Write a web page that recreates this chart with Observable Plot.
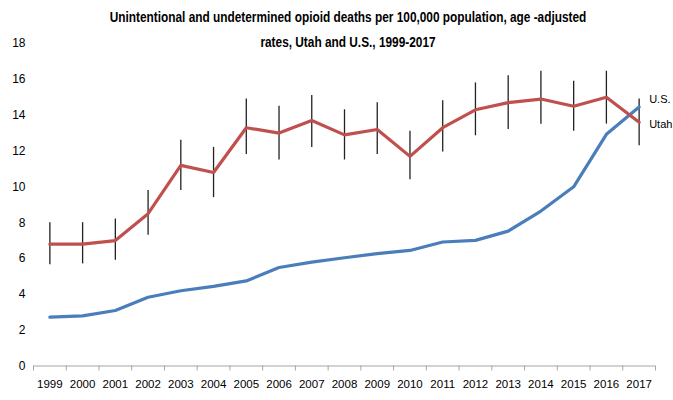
<!DOCTYPE html>
<html>
<head>
<meta charset="utf-8">
<script src="https://cdn.jsdelivr.net/npm/d3@7"></script>
<script src="https://cdn.jsdelivr.net/npm/@observablehq/plot@0.6"></script>
<style>
  html, body { margin: 0; padding: 0; background: #fff; }
  #wrap { position: relative; width: 673px; height: 400px; overflow: hidden; }
  #title { position: absolute; left: 0; top: 4px; width: 696px; text-align: center;
    font-family: "Liberation Sans", sans-serif; font-weight: bold;
    font-size: 15px; line-height: 25px; color: #000;
    transform: scaleX(0.79); transform-origin: 348px 0; }
</style>
</head>
<body>
<div id="wrap">
  <div id="chart"></div>
  <div id="title">Unintentional and undetermined opioid deaths per 100,000 population, age -adjusted<br>rates, Utah and U.S., 1999-2017</div>
</div>
<script>
const years = [1999,2000,2001,2002,2003,2004,2005,2006,2007,2008,2009,2010,2011,2012,2013,2014,2015,2016,2017];
const utah      = [6.8, 6.8, 7.0, 8.5, 11.2, 10.8, 13.3, 13.0, 13.7, 12.9, 13.2, 11.7, 13.3, 14.3, 14.7, 14.9, 14.5, 15.0, 13.6];
const utahLow   = [5.65, 5.7, 5.9, 7.3, 9.8, 9.4, 11.8, 11.5, 12.2, 11.5, 11.8, 10.4, 11.95, 12.85, 13.2, 13.5, 13.1, 13.5, 12.3];
const utahHigh  = [8.0, 8.0, 8.2, 9.8, 12.6, 12.2, 14.9, 14.5, 15.1, 14.3, 14.7, 13.1, 14.8, 15.8, 16.2, 16.45, 15.9, 16.45, 14.9];
const us        = [2.73, 2.8, 3.1, 3.84, 4.2, 4.44, 4.75, 5.5, 5.8, 6.04, 6.27, 6.45, 6.92, 7.01, 7.53, 8.65, 10.0, 12.93, 14.46];
const yTicks    = [0, 2, 4, 6, 8, 10, 12, 14, 16, 18];
const seriesLabels = ["U.S.", "Utah"];

const utahData = years.map((y, i) => ({year: y, value: utah[i], low: utahLow[i], high: utahHigh[i]}));
const usData = years.map((y, i) => ({year: y, value: us[i]}));
const boundaries = [...years.map(y => y - 0.5), years[years.length - 1] + 0.5];
const last = years.length - 1;

const chart = Plot.plot({
  width: 673,
  height: 400,
  marginTop: 43,
  marginBottom: 34.5,
  marginLeft: 33,
  marginRight: 18,
  style: {fontFamily: "'Liberation Sans', sans-serif", fontSize: "12px", color: "#000", overflow: "visible"},
  x: {domain: [years[0] - 0.5, years[last] + 0.5]},
  y: {domain: [0, 18]},
  marks: [
    Plot.axisY({ticks: yTicks, tickSize: 0, tickPadding: 8, label: null, fontSize: 12}),
    Plot.axisX({ticks: years, tickSize: 0, tickPadding: 14, tickFormat: d => String(d), label: null, fontSize: 11.5}),
    Plot.axisX({ticks: boundaries, tickSize: 5, tickFormat: () => "", label: null, stroke: "#a6a6a6"}),
    Plot.ruleY([0], {stroke: "#a6a6a6", strokeWidth: 1}),
    Plot.ruleX(utahData, {x: "year", y1: "low", y2: "high", stroke: "#222", strokeWidth: 1.3}),
    Plot.line(usData, {x: "year", y: "value", stroke: "#4a7ebb", strokeWidth: 3.2}),
    Plot.line(utahData, {x: "year", y: "value", stroke: "#c0504d", strokeWidth: 3.2}),
    Plot.text([usData[last]], {x: "year", y: "value", text: () => seriesLabels[0], dx: 10, dy: -7, textAnchor: "start", fontSize: 11, fill: "#000"}),
    Plot.text([utahData[last]], {x: "year", y: "value", text: () => seriesLabels[1], dx: 10, dy: 2, textAnchor: "start", fontSize: 11, fill: "#000"})
  ]
});
document.getElementById("chart").appendChild(chart);
</script>
</body>
</html>
